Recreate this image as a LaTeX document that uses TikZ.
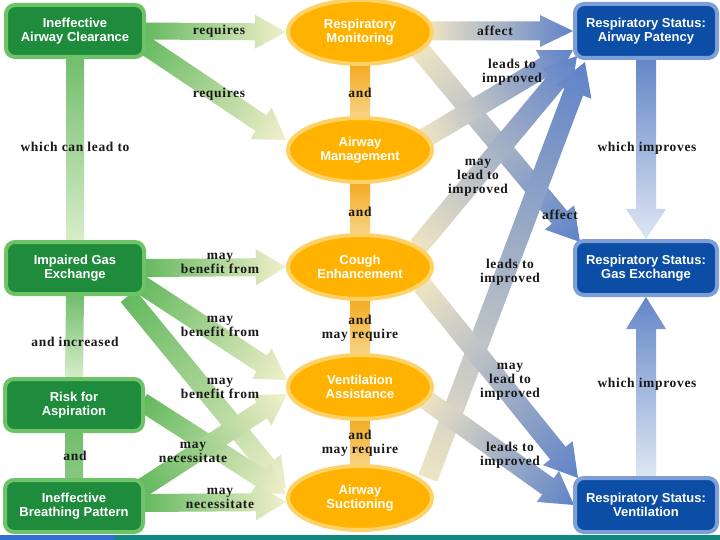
\documentclass[tikz,border=0pt]{standalone}
\usepackage{fontspec}
\setmainfont{Liberation Serif}
\newfontfamily\boxfont{Liberation Sans}
\newfontfamily\lblfont[LetterSpace=5]{Liberation Serif}
\usetikzlibrary{shapes.geometric,calc}

\definecolor{gfill}{RGB}{30,140,60}
\definecolor{gline}{RGB}{110,195,105}
\definecolor{bfill}{RGB}{12,78,165}
\definecolor{bline}{RGB}{125,158,214}
\definecolor{ofill}{RGB}{255,178,0}
\definecolor{oline}{RGB}{255,210,105}
\definecolor{garrA}{RGB}{100,185,95}
\definecolor{garrB}{RGB}{242,240,204}
\definecolor{barrA}{RGB}{238,228,196}
\definecolor{barrB}{RGB}{95,130,200}
\definecolor{obarA}{RGB}{245,168,30}
\definecolor{obarB}{RGB}{248,214,140}
\definecolor{vbarA}{RGB}{100,135,200}
\definecolor{vbarB}{RGB}{222,230,243}
\definecolor{lbarA}{RGB}{115,190,110}
\definecolor{lbarB}{RGB}{215,237,200}
\definecolor{stripA}{RGB}{50,110,210}
\definecolor{stripB}{RGB}{16,136,128}
\definecolor{lbltext}{RGB}{25,25,25}

\pgfdeclarelayer{back}
\pgfdeclarelayer{arrows}
\pgfsetlayers{back,arrows,main}

% #1 from, #2 to, #3 shaft half width, #4 head half width, #5 head length, #6 tail colour, #7 tip colour
\newcommand\fatarrow[7]{%
  \path (#1) coordinate (faA) (#2) coordinate (faB);
  \pgfpointdiff{\pgfpointanchor{faA}{center}}{\pgfpointanchor{faB}{center}}%
  \pgfgetlastxy{\fadx}{\fady}%
  \pgfmathsetmacro\falen{veclen(\fadx,\fady)}%
  \pgfmathsetmacro\faang{atan2(\fady,\fadx)}%
  \pgfmathsetmacro\fabase{\falen-#5}%
  \begin{scope}[transform canvas={shift={(faA)},rotate=\faang}]
    \shade[left color=#6,right color=#7] (0pt,-#3pt) -- (\fabase pt,-#3pt) -- (\fabase pt,-#4pt) -- (\falen pt,0pt) -- (\fabase pt,#4pt) -- (\fabase pt,#3pt) -- (0pt,#3pt) -- cycle;
  \end{scope}}

\tikzset{
  gbox/.style={draw=gline, line width=4pt, fill=gfill, rounded corners=9pt,
    minimum width=138pt, minimum height=52pt, align=center, text=white,
    font=\boxfont\bfseries\fontsize{13}{14}\selectfont, inner sep=2pt},
  bbox/.style={gbox, draw=bline, fill=bfill, minimum width=142pt, minimum height=54pt},
  oell/.style={ellipse, draw=oline, line width=4pt, fill=ofill,
    minimum width=144pt, minimum height=64pt, inner sep=0pt, align=center, text=white,
    font=\boxfont\bfseries\fontsize{13}{14}\selectfont},
  lbl/.style={font=\lblfont\bfseries\fontsize{13.5}{14}\selectfont, align=center, inner sep=0pt, text=lbltext}
}

\begin{document}
\begin{tikzpicture}[x=1pt,y=-1pt]
\useasboundingbox (0,0) rectangle (720,540);
\begin{pgfonlayer}{back}
  \fill[white] (0,0) rectangle (720,540);
\end{pgfonlayer}

% nodes
\node[gbox] (g1) at (75,31) {Ineffective\\Airway Clearance};
\node[gbox] (g2) at (75,268) {Impaired Gas\\Exchange};
\node[gbox] (g3) at (74,405) {Risk for\\Aspiration};
\node[gbox] (g4) at (74,506) {Ineffective\\Breathing Pattern};

\node[oell] (o1) at (360,32) {Respiratory\\Monitoring};
\node[oell] (o2) at (360,150) {Airway\\Management};
\node[oell] (o3) at (360,267) {Cough\\Enhancement};
\node[oell] (o4) at (360,387) {Ventilation\\Assistance};
\node[oell] (o5) at (360,498) {Airway\\Suctioning};

\node[bbox] (b1) at (646,31) {Respiratory Status:\\Airway Patency};
\node[bbox] (b2) at (646,268) {Respiratory Status:\\Gas Exchange};
\node[bbox] (b3) at (646,505) {Respiratory Status:\\Ventilation};

\begin{pgfonlayer}{arrows}
  % left vertical bars
  \fatarrow{g1.south}{g2.north}{9}{9}{0}{lbarA}{lbarB}
  \fatarrow{g2.south}{g3.north}{9}{9}{0}{lbarA}{lbarB}
  \fatarrow{g3.south}{g4.north}{9}{9}{0}{lbarA}{lbarA!80!lbarB}
  % orange bars
  \fatarrow{$(o1.south)+(0,-4)$}{$(o2.north)+(0,4)$}{10}{10}{0}{obarA}{obarB}
  \fatarrow{$(o2.south)+(0,-4)$}{$(o3.north)+(0,4)$}{10}{10}{0}{obarA}{obarB}
  \fatarrow{$(o3.south)+(0,-4)$}{$(o4.north)+(0,4)$}{10}{10}{0}{obarA}{obarB}
  \fatarrow{$(o4.south)+(0,-4)$}{$(o5.north)+(0,4)$}{10}{10}{0}{obarA}{obarB}
  % green arrows
  \fatarrow{$(g1.east)+(-2,0)$}{o1.west}{8.5}{17}{31}{garrA}{garrB}
  \fatarrow{$(g1.center)+(65,11)$}{$(o2.center)+(-74,-10)$}{9.5}{19}{30}{garrA}{garrB}
  \fatarrow{$(g2.east)+(-2,0)$}{o3.west}{9}{18}{30}{garrA}{garrB}
  \fatarrow{$(g2.center)+(65,16)$}{$(o4.center)+(-73,-7)$}{9.5}{18}{30}{garrA}{garrB}
  \fatarrow{$(g2.center)+(53,28)$}{$(o5.center)+(-74,-9)$}{9.5}{18}{30}{garrA}{garrB}
  \fatarrow{$(g3.center)+(68,-3)$}{$(o5.center)+(-74,-4)$}{9.5}{18}{30}{garrA}{garrB}
  \fatarrow{$(g4.center)+(68,-18)$}{$(o4.center)+(-73,7)$}{9.5}{18}{30}{garrA}{garrB}
  \fatarrow{$(g4.center)+(69,-3)$}{$(o5.center)+(-74,4)$}{9}{18}{30}{garrA}{garrB}
  % blue arrows
  \fatarrow{$(o1.center)+(68,-1)$}{b1.west}{9.5}{16}{33}{barrA}{barrB}
  \fatarrow{$(o1.center)+(60,18)$}{$(b2.center)+(-66,-26)$}{10}{19}{32}{barrA}{barrB}
  \fatarrow{$(o2.center)+(65,-12)$}{$(b1.center)+(-73,19)$}{10}{19}{32}{barrA}{barrB}
  \fatarrow{$(o3.center)+(58,-20)$}{$(b1.center)+(-69,25)$}{10}{19}{32}{barrA}{barrB}
  \fatarrow{$(o5.center)+(68,-20)$}{$(b1.center)+(-61,31)$}{10}{19}{32}{barrA}{barrB}
  \fatarrow{$(o3.center)+(62,18)$}{$(b3.center)+(-68,-27)$}{10}{19}{32}{barrA}{barrB}
  \fatarrow{$(o4.center)+(65,12)$}{$(b3.center)+(-72,0)$}{10}{19}{32}{barrA}{barrB}
  % blue vertical arrows
  \fatarrow{b1.south}{b2.north}{10}{20}{30}{vbarA}{vbarB}
  \fatarrow{b3.north}{b2.south}{10}{20}{32}{vbarB}{vbarA}
\end{pgfonlayer}

% labels
\node[lbl] (l1) at (219,31) {requires};
\node[lbl] (l2) at (219,94) {requires};
\node[lbl] (l3) at (75,147) {which can lead to};
\node[lbl] (l4) at (220,263) {may\\benefit from};
\node[lbl] (l5) at (220,326) {may\\benefit from};
\node[lbl] (l6) at (75,342) {and increased};
\node[lbl] (l7) at (220,388) {may\\benefit from};
\node[lbl] (l8) at (193,452) {may\\necessitate};
\node[lbl] (l9) at (75,456) {and};
\node[lbl] (l10) at (220,498) {may\\necessitate};
\node[lbl] (l11) at (360,93) {and};
\node[lbl] (l12) at (360,212) {and};
\node[lbl] (l13) at (360,328) {and\\may require};
\node[lbl] (l14) at (360,443) {and\\may require};
\node[lbl] (l15) at (495,31) {affect};
\node[lbl] (l16) at (512,72) {leads to\\improved};
\node[lbl] (l17) at (478,178) {may\\lead to\\improved};
\node[lbl] (l18) at (560,215) {affect};
\node[lbl] (l19) at (647,148) {which improves};
\node[lbl] (l20) at (510,272) {leads to\\improved};
\node[lbl] (l21) at (510,382) {may\\lead to\\improved};
\node[lbl] (l22) at (647,384) {which improves};
\node[lbl] (l23) at (510,455) {leads to\\improved};

% bottom strip
\fill[stripA] (0,535) rectangle (115,540);
\fill[stripB] (115,535) rectangle (720,540);
\end{tikzpicture}
\end{document}
